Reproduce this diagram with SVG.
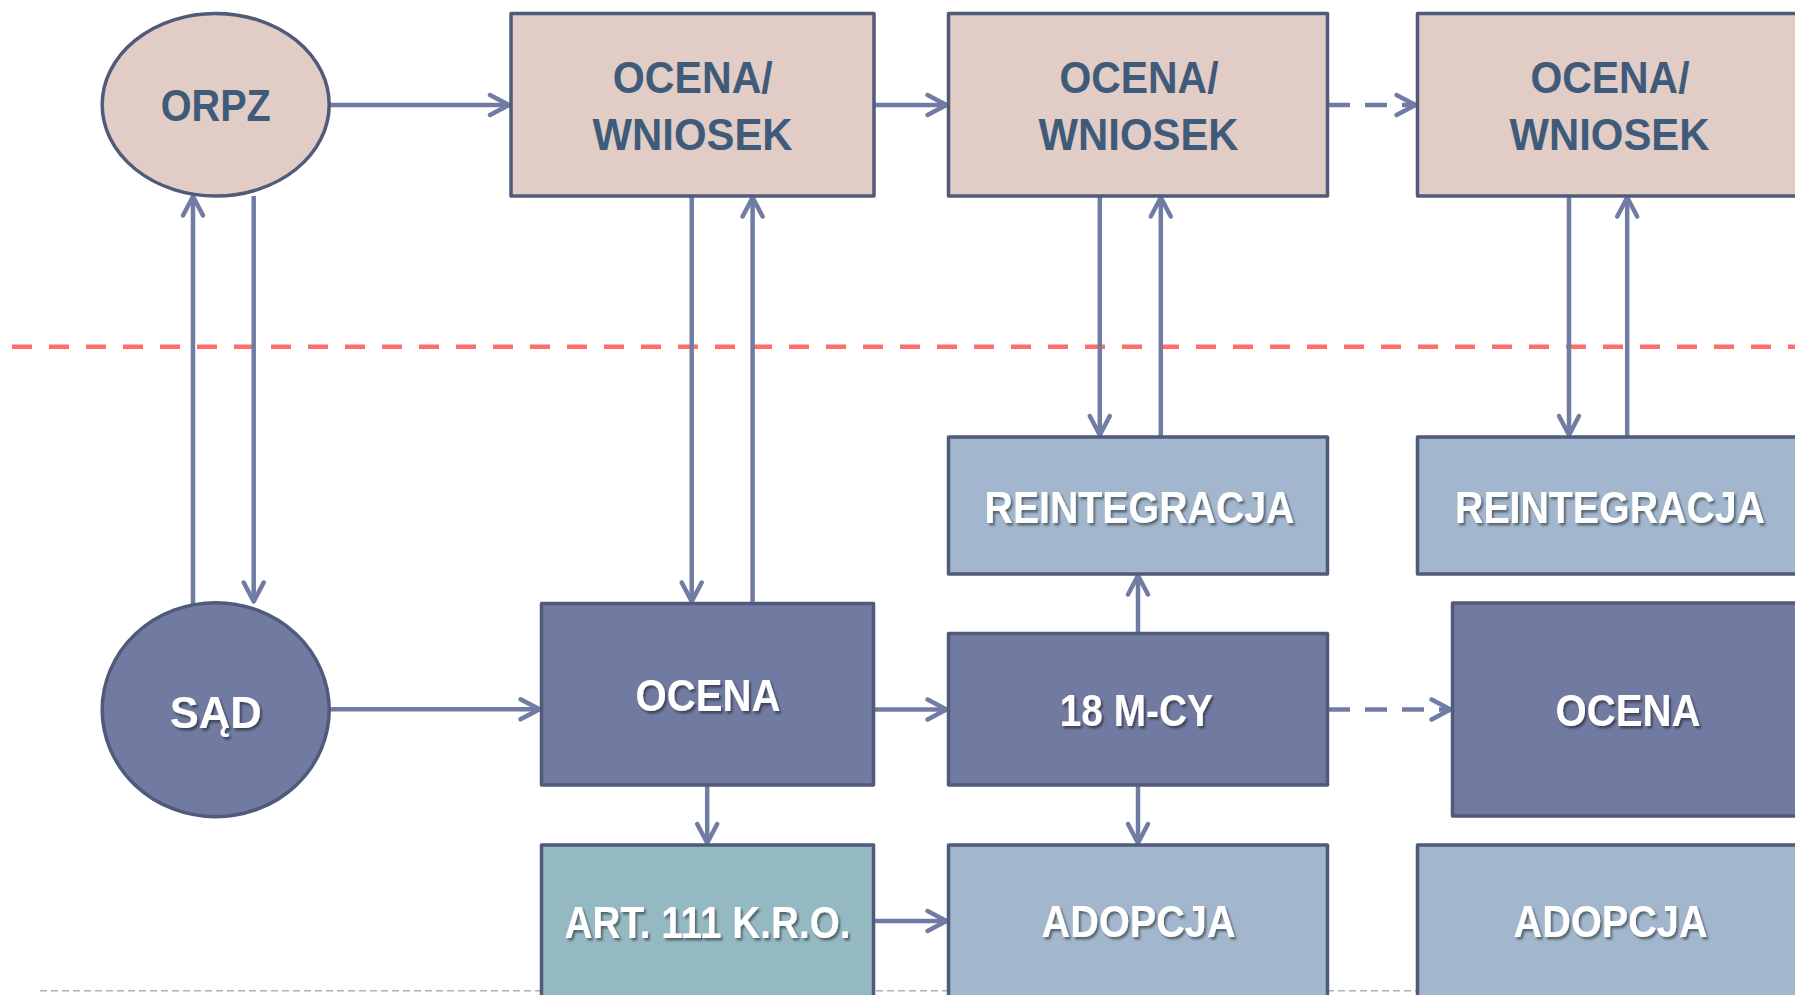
<svg xmlns="http://www.w3.org/2000/svg" width="1795" height="995" viewBox="0 0 1795 995">
  <defs>
    <marker id="ah" markerUnits="userSpaceOnUse" markerWidth="40" markerHeight="40" refX="0" refY="0" orient="auto" overflow="visible">
      <path d="M-19,-10 L0,0 L-19,10" fill="none" stroke="#717CA4" stroke-width="4.5" stroke-linecap="round" stroke-linejoin="round"/>
    </marker>
    <filter id="sh" x="-10%" y="-30%" width="130%" height="170%">
      <feDropShadow dx="2" dy="2.5" stdDeviation="1.3" flood-color="#000" flood-opacity="0.45"/>
    </filter>
  </defs>
  <style>
    .box { stroke: #505A7A; stroke-width: 3.5; stroke-linejoin: round; }
    .pink { fill: #E1CDC6; }
    .dark { fill: #717BA1; }
    .light { fill: #A2B7CD; }
    .teal { fill: #95B9C3; }
    .t { font-family: "Liberation Sans", Arial, sans-serif; font-weight: bold; font-size: 43.5px; text-anchor: middle; }
    .td { fill: #3F5B79; }
    .tw { fill: #FFFFFF; filter: url(#sh); }
    .con { fill: none; stroke: #717CA4; stroke-width: 4.5; marker-end: url(#ah); }
    .dash { stroke-dasharray: 22 15; }
  </style>
  <rect width="1795" height="995" fill="#FFFFFF"/>
  <line x1="40" y1="990.7" x2="1795" y2="990.7" stroke="#A0B4C8" stroke-width="1.6" stroke-dasharray="7 4"/>
  <line x1="12" y1="346.7" x2="1795" y2="346.7" stroke="#FF6E6A" stroke-width="4.5" stroke-dasharray="20 17"/>

  <g id="connectors">
    <path class="con" d="M330,105 H509"/>
    <path class="con" d="M874,105 H946.5"/>
    <path class="con dash" d="M1328,105 H1415.5"/>
    <path class="con" d="M253.7,196 V601.5"/>
    <path class="con" d="M193,605 V196.5"/>
    <path class="con" d="M691.7,196 V601.5"/>
    <path class="con" d="M752.6,603 V197.5"/>
    <path class="con" d="M1099.8,196 V435"/>
    <path class="con" d="M1160.8,437 V197.5"/>
    <path class="con" d="M1569,196 V435"/>
    <path class="con" d="M1627.2,437 V197.5"/>
    <path class="con" d="M329,709.3 H539.5"/>
    <path class="con" d="M874,709.5 H946.5"/>
    <path class="con dash" d="M1328,709.5 H1450.5"/>
    <path class="con" d="M1138,633 V575.5"/>
    <path class="con" d="M1138,785 V843"/>
    <path class="con" d="M707.2,785 V843"/>
    <path class="con" d="M874,921 H946.5"/>
  </g>

  <g id="orpz">
    <ellipse class="box pink" cx="215.7" cy="104.7" rx="113.5" ry="91.3"/>
    <text class="t td" x="215.8" y="120.7" textLength="110" lengthAdjust="spacingAndGlyphs">ORPZ</text>
  </g>
  <g id="ocena-wniosek-1">
    <rect class="box pink" x="511" y="13.5" width="363" height="182.5"/>
    <text class="t td" x="692.8" y="92.7" textLength="160" lengthAdjust="spacingAndGlyphs">OCENA/</text>
    <text class="t td" x="692.6" y="150.2" textLength="200" lengthAdjust="spacingAndGlyphs">WNIOSEK</text>
  </g>
  <g id="ocena-wniosek-2">
    <rect class="box pink" x="948.5" y="13.5" width="379" height="182.5"/>
    <text class="t td" x="1139" y="92.7" textLength="159" lengthAdjust="spacingAndGlyphs">OCENA/</text>
    <text class="t td" x="1138.6" y="150.2" textLength="200" lengthAdjust="spacingAndGlyphs">WNIOSEK</text>
  </g>
  <g id="ocena-wniosek-3">
    <rect class="box pink" x="1417.5" y="13.5" width="384" height="182.5"/>
    <text class="t td" x="1610" y="92.7" textLength="159" lengthAdjust="spacingAndGlyphs">OCENA/</text>
    <text class="t td" x="1609.5" y="150.2" textLength="200" lengthAdjust="spacingAndGlyphs">WNIOSEK</text>
  </g>
  <g id="reintegracja-1">
    <rect class="box light" x="948.5" y="437" width="379" height="137"/>
    <text class="t tw" x="1139.5" y="522.7" textLength="310" lengthAdjust="spacingAndGlyphs">REINTEGRACJA</text>
  </g>
  <g id="reintegracja-2">
    <rect class="box light" x="1417.5" y="437" width="384" height="137"/>
    <text class="t tw" x="1610" y="522.7" textLength="310" lengthAdjust="spacingAndGlyphs">REINTEGRACJA</text>
  </g>
  <g id="sad">
    <ellipse class="box dark" cx="215.7" cy="709.7" rx="113.5" ry="107"/>
    <text class="t tw" x="215.8" y="728.3" textLength="92" lengthAdjust="spacingAndGlyphs">SĄD</text>
  </g>
  <g id="ocena-1">
    <rect class="box dark" x="541.5" y="603.5" width="332" height="181.5"/>
    <text class="t tw" x="708" y="711" textLength="145" lengthAdjust="spacingAndGlyphs">OCENA</text>
  </g>
  <g id="m18">
    <rect class="box dark" x="948.5" y="633.5" width="379" height="151.5"/>
    <text class="t tw" x="1136.3" y="726" textLength="153" lengthAdjust="spacingAndGlyphs">18 M-CY</text>
  </g>
  <g id="ocena-2">
    <rect class="box dark" x="1452.5" y="603" width="351" height="213"/>
    <text class="t tw" x="1628" y="726" textLength="145" lengthAdjust="spacingAndGlyphs">OCENA</text>
  </g>
  <g id="art111">
    <rect class="box teal" x="541.5" y="845" width="332" height="190"/>
    <text class="t tw" x="707.5" y="938.3" textLength="286" lengthAdjust="spacingAndGlyphs">ART. 111 K.R.O.</text>
  </g>
  <g id="adopcja-1">
    <rect class="box light" x="948.5" y="845" width="379" height="190"/>
    <text class="t tw" x="1138.6" y="937.3" textLength="194" lengthAdjust="spacingAndGlyphs">ADOPCJA</text>
  </g>
  <g id="adopcja-2">
    <rect class="box light" x="1417.5" y="845" width="384" height="190"/>
    <text class="t tw" x="1610.6" y="937.3" textLength="194" lengthAdjust="spacingAndGlyphs">ADOPCJA</text>
  </g>
</svg>
